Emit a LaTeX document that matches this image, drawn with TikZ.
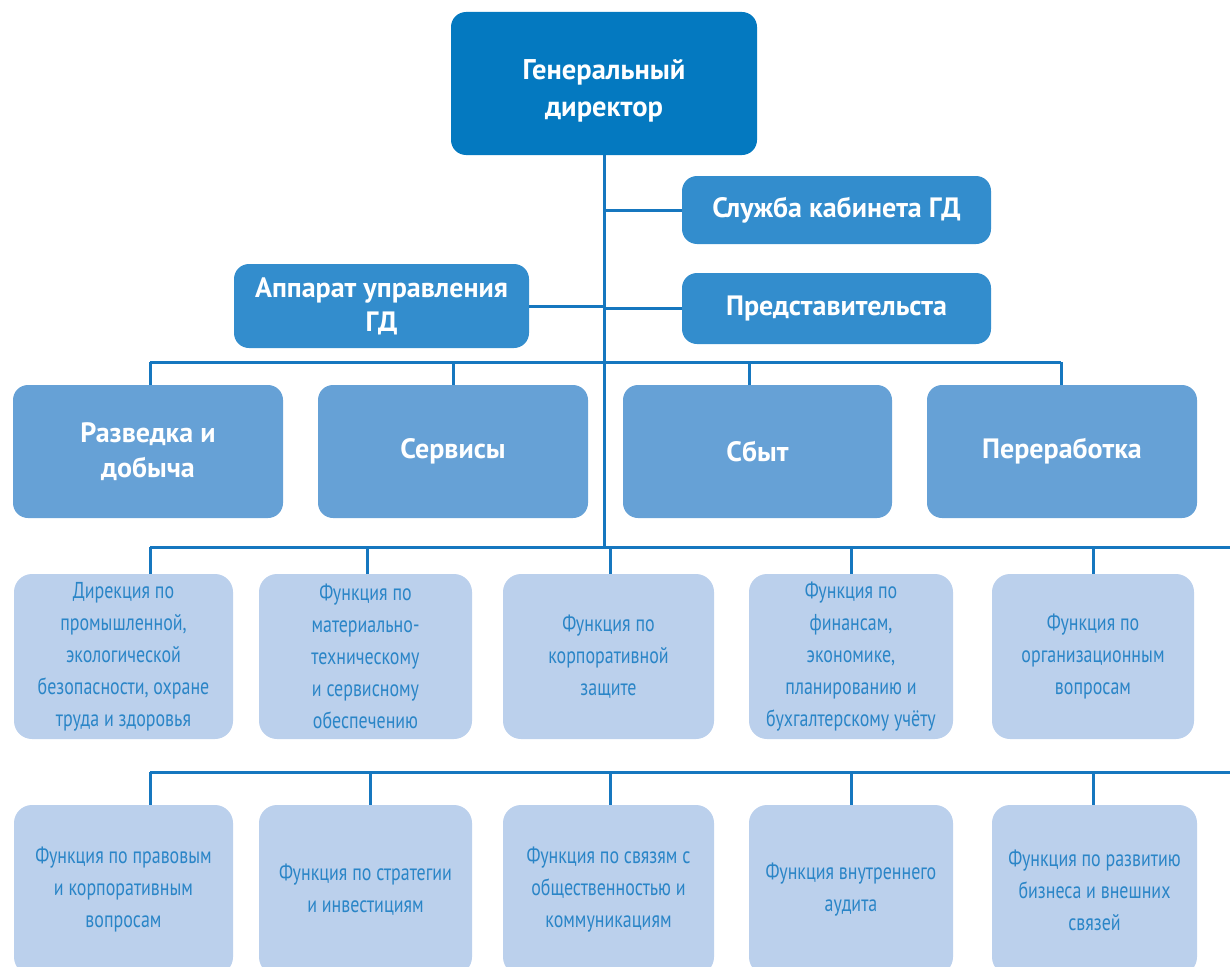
\documentclass[tikz,border=0pt]{standalone}
\usepackage{fontspec}
\setmainfont{PT Sans}[FakeStretch=0.78]
\newfontfamily\hdfont{PT Sans}
\definecolor{cTop}{HTML}{0479C0}
\definecolor{cMid}{HTML}{338DCD}
\definecolor{cDiv}{HTML}{66A1D6}
\definecolor{cFun}{HTML}{BBD0EC}
\definecolor{cFunTxt}{HTML}{2A85C7}
\definecolor{cLine}{HTML}{1677BF}
\begin{document}
\begin{tikzpicture}[x=1pt,y=-1pt,
  box/.style={rectangle,rounded corners=15pt,inner sep=2pt,align=center,text=white},
  gdbox/.style={box,fill=cTop,font=\hdfont\bfseries\fontsize{28.5}{37}\selectfont},
  midbox/.style={box,fill=cMid,font=\hdfont\bfseries\fontsize{28}{34}\selectfont},
  divbox/.style={box,fill=cDiv,font=\hdfont\bfseries\fontsize{28}{35}\selectfont},
  funcbox/.style={box,fill=cFun,rounded corners=18pt,text=cFunTxt,font=\fontsize{23}{32}\selectfont},
  link/.style={draw=cLine,line width=3pt}]
\useasboundingbox (0,0) rectangle (1230,966);
\clip (0,0) rectangle (1230,966);
% top
\node[gdbox,minimum width=306pt,minimum height=143pt] (gd) at (604,83.5) {\rule{0pt}{34pt}Генеральный\\директор};
\node[midbox,minimum width=309pt,minimum height=68pt] (sk) at (836.5,210) {Служба кабинета ГД};
\node[midbox,minimum width=309pt,minimum height=71pt] (pr) at (836.5,308.5) {Представительста};
\node[midbox,minimum width=295pt,minimum height=84pt] (au) at (381.5,306) {Аппарат управления\\ГД};
% divisions
\node[divbox,minimum width=270pt,minimum height=133pt] (r1) at (148,451.5) {Разведка и\\добыча};
\node[divbox,minimum width=270pt,minimum height=133pt] (r2) at (453,451.5) {Сервисы};
\node[divbox,minimum width=269pt,minimum height=133pt] (r3) at (757.5,451.5) {Сбыт};
\node[divbox,minimum width=270pt,minimum height=133pt] (r4) at (1062,451.5) {Переработка};
% functions row 1
\node[funcbox,minimum width=219pt,minimum height=165pt] (f1) at (123.5,656.5) {Дирекция по\\промышленной,\\экологической\\безопасности, охране\\труда и здоровья};
\node[funcbox,minimum width=213pt,minimum height=165pt] (f2) at (365.5,656.5) {Функция по\\материально-\\техническому\\и сервисному\\обеспечению};
\node[funcbox,minimum width=211pt,minimum height=165pt] (f3) at (608.5,656.5) {Функция по\\корпоративной\\защите};
\node[funcbox,minimum width=204pt,minimum height=165pt] (f4) at (851,656.5) {Функция по\\финансам,\\экономике,\\планированию и\\бухгалтерскому учёту};
\node[funcbox,minimum width=202pt,minimum height=165pt] (f5) at (1093,656.5) {Функция по\\организационным\\вопросам};
% functions row 2
\node[funcbox,minimum width=219pt,minimum height=170pt] (g1) at (123.5,890) {Функция по правовым\\и корпоративным\\вопросам};
\node[funcbox,minimum width=213pt,minimum height=170pt] (g2) at (365.5,890) {Функция по стратегии\\и инвестициям};
\node[funcbox,minimum width=211pt,minimum height=170pt] (g3) at (608.5,890) {Функция по связям с\\общественностью и\\коммуникациям};
\node[funcbox,minimum width=204pt,minimum height=170pt] (g4) at (851,890) {Функция внутреннего\\аудита};
\node[funcbox,minimum width=205pt,minimum height=170pt] (g5) at (1094.5,890) {Функция по развитию\\бизнеса и внешних\\связей};
% coordinates
\coordinate (trunk) at (604,547);
\coordinate (b1l) at (150,362);
\coordinate (b1r) at (1061,362);
\coordinate (b2l) at (150,547);
\coordinate (b2r) at (1230,547);
\coordinate (b3l) at (150,772);
\coordinate (b3r) at (1230,772);
% trunk and side branches
\draw[link] (gd.south) -- (trunk);
\draw[link] (sk.west) -- (sk.west -| gd.south);
\draw[link] (pr.west) -- (pr.west -| gd.south);
\draw[link] (au.east) -- (au.east -| gd.south);
% bus 1
\draw[link] (b1l) -- (b1r);
\draw[link] (b1l) -- (b1l |- r1.north);
\draw[link] (b1l -| r2.north) -- (r2.north);
\draw[link] (749,362) coordinate (v3) -- (v3 |- r3.north);
\draw[link] (b1r) -- (b1r |- r4.north);
% bus 2
\draw[link] (b2l) -- (b2r);
\draw[link] (b2l) -- (b2l |- f1.north);
\draw[link] (367,547) coordinate (w2) -- (w2 |- f2.north);
\draw[link] (610,547) coordinate (w3) -- (w3 |- f3.north);
\draw[link] (b2l -| f4.north) -- (f4.north);
\draw[link] (b2l -| f5.north) -- (f5.north);
% bus 3
\draw[link] (b3l) -- (b3r);
\draw[link] (b3l) -- (b3l |- g1.north);
\draw[link] (370,772) coordinate (x2) -- (x2 |- g2.north);
\draw[link] (610,772) coordinate (x3) -- (x3 |- g3.north);
\draw[link] (b3l -| g4.north) -- (g4.north);
\draw[link] (1093,772) coordinate (x5) -- (x5 |- g5.north);
\end{tikzpicture}
\end{document}
